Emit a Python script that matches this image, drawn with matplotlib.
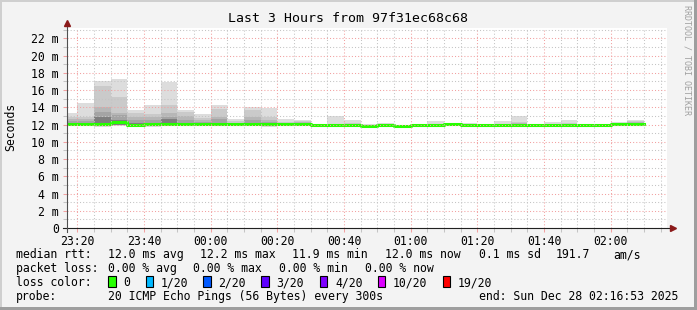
import matplotlib
matplotlib.use('Agg')
import matplotlib.pyplot as plt
import numpy as np

plt.rcParams['font.family'] = ['DejaVu Sans Mono']

# 5-minute intervals (start times), smokeping style data in ms
interval_start = ['23:15', '23:20', '23:25', '23:30', '23:35', '23:40', '23:45', '23:50', '23:55',
                  '00:00', '00:05', '00:10', '00:15', '00:20', '00:25', '00:30', '00:35', '00:40',
                  '00:45', '00:50', '00:55', '01:00', '01:05', '01:10', '01:15', '01:20', '01:25',
                  '01:30', '01:35', '01:40', '01:45', '01:50', '01:55', '02:00', '02:05']

rtt_median = [12.05, 12.05, 12.05, 12.25, 12.00, 12.05, 12.10, 12.05, 12.05, 12.10,
              12.05, 12.10, 12.10, 12.05, 12.05, 11.92, 11.92, 11.92, 11.88, 11.94,
              11.88, 12.00, 12.00, 12.02, 11.98, 11.90, 11.94, 12.00, 11.90, 12.00,
              12.00, 12.00, 12.00, 12.03, 12.03]

# smoke: outer pair (min/max) and inner ping pairs
rtt_max = [13.35, 14.50, 17.00, 17.25, 13.66, 14.24, 16.94, 13.70, 13.20, 14.24,
           12.70, 14.00, 13.97, 12.60, 12.50, 12.05, 12.95, 12.50, 12.05, 12.15,
           12.00, 12.10, 12.38, 12.10, 12.15, 12.00, 12.38, 12.96, 12.00, 12.26,
           12.50, 12.05, 12.10, 12.27, 12.50]
rtt_hi2 = [12.90, 12.90, 16.45, 15.20, 13.30, 13.27, 14.24, 13.47, 12.80, 13.85,
           12.40, 13.70, 12.90, 12.30, 12.40, 12.00, 12.10, 12.15, 12.00, 12.05,
           11.95, 12.05, 12.10, 12.05, 12.05, 11.95, 12.10, 12.26, 11.95, 12.10,
           12.20, 12.00, 12.05, 12.15, 12.40]
rtt_hi3 = [12.60, 12.60, 14.00, 13.35, 12.90, 12.90, 13.35, 12.95, 12.50, 12.90,
           12.20, 12.90, 12.50, 12.15, 12.30, 11.95, 12.00, 12.05, 11.95, 12.00,
           11.92, 12.05, 12.05, 12.05, 12.00, 11.92, 12.00, 12.15, 11.92, 12.05,
           12.10, 12.00, 12.00, 12.10, 12.30]
rtt_hi4 = [12.40, 12.40, 13.45, 13.10, 12.50, 12.50, 12.90, 12.50, 12.25, 12.60,
           12.10, 12.50, 12.30, 12.10, 12.20, 11.93, 11.95, 11.95, 11.92, 11.97,
           11.90, 12.03, 12.02, 12.05, 12.00, 11.90, 11.98, 12.05, 11.90, 12.02,
           12.05, 12.00, 12.00, 12.07, 12.15]
rtt_hi6 = [12.15, 12.15, 12.90, 12.55, 12.15, 12.20, 12.70, 12.15, 12.10, 12.20,
           12.05, 12.20, 12.15, 12.05, 12.10, 11.92, 11.92, 11.92, 11.90, 11.95,
           11.90, 12.02, 12.00, 12.05, 12.00, 11.90, 11.97, 12.00, 11.90, 12.00,
           12.00, 12.00, 12.00, 12.05, 12.05]
rtt_min = [11.80, 11.85, 11.75, 11.80, 11.85, 11.75, 11.90, 11.90, 11.90, 11.80,
           11.90, 11.90, 11.75, 11.90, 11.85, 11.85, 11.85, 11.80, 11.85, 11.85,
           11.85, 11.90, 11.85, 11.95, 11.90, 11.85, 11.85, 11.80, 11.85, 11.90,
           11.85, 11.90, 11.90, 11.90, 11.85]
rtt_lo = [11.95, 11.95, 11.90, 12.00, 11.95, 11.90, 12.00, 12.00, 11.95, 11.95,
          12.00, 12.00, 11.90, 12.00, 11.95, 11.90, 11.90, 11.88, 11.88, 11.90,
          11.88, 11.98, 11.95, 12.00, 11.95, 11.88, 11.92, 11.95, 11.88, 11.98,
          11.95, 11.98, 11.98, 12.00, 11.98]

tick_times = ['23:20', '23:40', '00:00', '00:20', '00:40', '01:00', '01:20', '01:40', '02:00']
loss_labels = ['0', '1/20', '2/20', '3/20', '4/20', '10/20', '19/20']
loss_colors = ['#26ff00', '#00b8ff', '#0059ff', '#5e00ff', '#7e00ff', '#dd00ff', '#ff0000']


def to_min(t):
    h, m = map(int, t.split(':'))
    if h < 12:
        h += 24
    return (h - 23) * 60 + m


W, H = 697, 310
fig = plt.figure(figsize=(W / 100, H / 100), dpi=100, facecolor='#f3f3f3')
ax = fig.add_axes([67 / W, 1 - 228 / H, 600 / W, 200 / H])
ax.set_facecolor('white')

starts = np.array([to_min(t) for t in interval_start], dtype=float)
x_start = to_min('02:16') + 53 / 60 - 180
ax.set_xlim(x_start, x_start + 180)
ax.set_ylim(0, 200 / 8.62)

bands = [(rtt_max, rtt_min, '#dddddd'), (rtt_hi2, rtt_lo, '#cacaca'),
         (rtt_hi3, rtt_lo, '#b7b7b7'), (rtt_hi4, rtt_lo, '#a4a4a4'),
         (rtt_hi6, rtt_lo, '#7e7e7e')]
for top, bot, col in bands:
    top = np.array(top); bot = np.array(bot)
    ax.bar(starts, np.maximum(top - bot, 0), bottom=bot, width=5, align='edge',
           color=col, linewidth=0, zorder=1)

edges = np.append(starts, starts[-1] + 5)
ax.step(edges, np.append(rtt_median, rtt_median[-1]), where='post',
        color=loss_colors[0], lw=2.2, zorder=2)

# grid
ax.set_xticks([to_min(t) for t in tick_times])
ax.set_xticklabels(tick_times)
ax.set_xticks(np.arange(20, 200, 5), minor=True)
ax.set_yticks(np.arange(0, 23, 2))
ax.set_yticklabels(['0'] + ['%d m' % v for v in range(2, 23, 2)])
ax.set_yticks(np.arange(1, 24, 2), minor=True)
ax.set_axisbelow(False)
ax.grid(which='major', color='#f2a0a0', ls=(0, (1, 2)), lw=0.75)
ax.grid(which='minor', color='#c4c4c4', ls=(0, (1, 2)), lw=0.75)
ax.tick_params(which='major', length=3, width=0.75, color='#f2a0a0', labelsize=8.3, pad=2)
ax.tick_params(which='minor', length=3, width=0.75, color='#c4c4c4')
ax.tick_params(axis='y', pad=3)
for s in ax.spines.values():
    s.set_visible(False)

# axes with arrows
ax.plot([-4 / 600, 1 + 6 / 600], [0, 0], transform=ax.transAxes, clip_on=False,
        color='#202020', lw=0.8, zorder=4)
ax.plot([0, 0], [-4 / 200, 1 + 4 / 200], transform=ax.transAxes, clip_on=False,
        color='#505050', lw=0.8, zorder=4)
ax.plot([1 + 6 / 600], [0], marker='>', ms=4.5, color='#8b1a1a', transform=ax.transAxes,
        clip_on=False, zorder=5)
ax.plot([0], [1 + 5 / 200], marker='^', ms=4.5, color='#8b1a1a', transform=ax.transAxes,
        clip_on=False, zorder=5)


def fx(x):
    return x / W


def fy(y):
    return 1 - y / H


fig.text(fx(348), fy(19), 'Last 3 Hours from 97f31ec68c68', ha='center', va='center', fontsize=9.5)
fig.text(fx(11), fy(127), 'Seconds', rotation=90, ha='center', va='center', fontsize=8.3)
fig.text(fx(687), fy(60), 'RRDTOOL / TOBI OETIKER', rotation=270, ha='center', va='center',
         fontsize=6, color='#a0a0a0')

fs = 8.3
line1 = [('median rtt:', 16), ('12.0 ms avg', 107.5), ('12.2 ms max', 200), ('11.9 ms min', 292),
         ('12.0 ms now', 385), ('0.1 ms sd', 479), ('191.7', 556), ('am/s', 613)]
line2 = [('packet loss:', 16), ('0.00 % avg', 107.5), ('0.00 % max', 193), ('0.00 % min', 279),
         ('0.00 % now', 365)]
line4 = [('probe:', 16), ('20 ICMP Echo Pings (56 Bytes) every 300s', 107.5),
         ('end: Sun Dec 28 02:16:53 2025', 478.7)]
for items, yb in [(line1, 258), (line2, 272), (line4, 300)]:
    for txt, x in items:
        fig.text(fx(x), fy(yb), txt, ha='left', va='baseline', fontsize=fs)

fig.text(fx(16), fy(286), 'loss color:', ha='left', va='baseline', fontsize=fs)
box_x = [108.3, 145.7, 203.3, 261.3, 320, 377.5, 442.5]
for lab, col, bx in zip(loss_labels, loss_colors, box_x):
    fig.add_artist(plt.Rectangle((fx(bx), fy(287.3)), 7.4 / W, 11 / H, transform=fig.transFigure,
                                 facecolor=col, edgecolor='black', lw=0.8))
    fig.text(fx(bx + 15), fy(286), lab, ha='left', va='baseline', fontsize=fs)

# frame shading
fig.add_artist(plt.Rectangle((0, fy(2)), 1, 2 / H, transform=fig.transFigure, color='#cfcfcf', lw=0))
fig.add_artist(plt.Rectangle((0, 0), 2 / W, 1, transform=fig.transFigure, color='#cfcfcf', lw=0))
fig.add_artist(plt.Rectangle((fx(694), 0), 3 / W, 1, transform=fig.transFigure, color='#9e9e9e', lw=0))
fig.add_artist(plt.Rectangle((0, 0), 1, 3 / H, transform=fig.transFigure, color='#9e9e9e', lw=0))

fig.savefig('out.png', dpi=100, facecolor=fig.get_facecolor())
